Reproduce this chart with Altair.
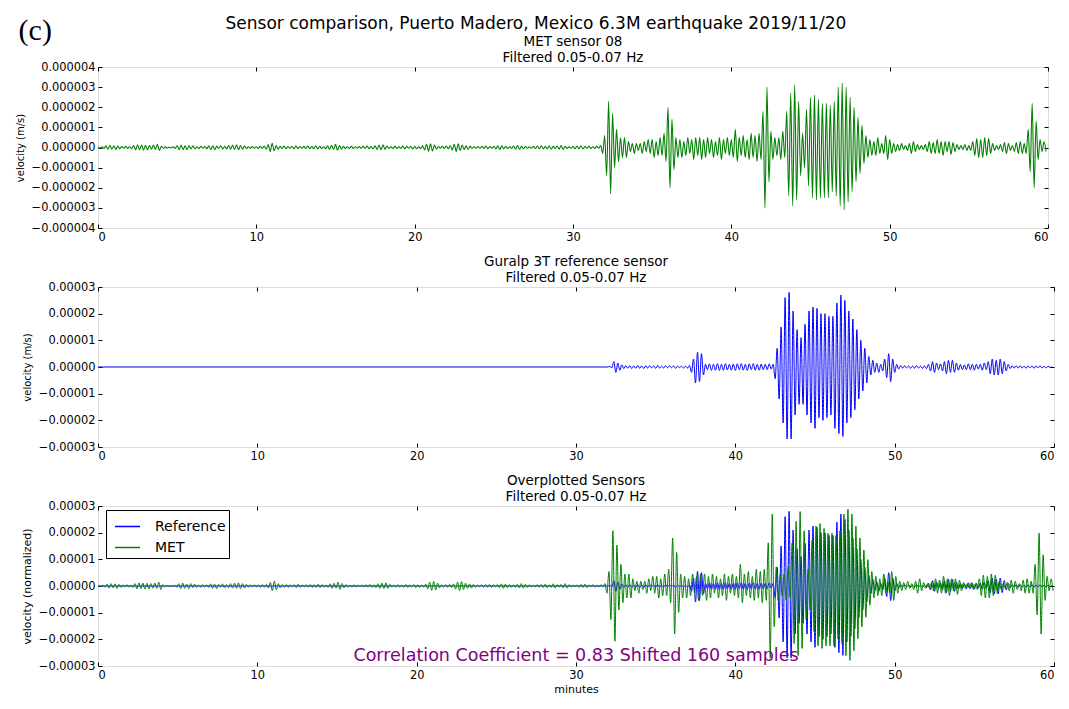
import altair as alt
import pandas as pd

FONT = "DejaVu Sans"
GREEN = "#008000"
BLUE = "#0000ff"
STEP_MIN = 0.125  # spacing (minutes) of the extrema listed below

# ---- MET sensor 08: successive extrema (units of 1e-7 m/s) ----
met_00_10 = [0.3, -0.3, 0.4, -0.5, 0.8, -0.9, 1.0, -0.8, 0.9, -1.0, 0.7, -0.6, 0.5, -0.4, 0.6, -0.5,
             0.4, -0.6, 1.0, -1.2, 1.3, -1.1, 1.2, -1.3, 1.1, -1.2, 1.0, -0.9, 1.2, -1.0, 1.6, -1.5,
             0.6, -0.4, 0.3, -0.3, 0.2, -0.2, 0.3, -0.5, 0.9, -1.1, 1.2, -1.0, 0.8, -1.1, 1.0, -0.7,
             0.8, -0.6, 0.4, -0.5, 0.6, -0.4, 0.5, -0.6, 0.9, -1.0, 0.8, -1.1, 0.7, -0.5, 0.9, -0.8,
             0.6, -0.7, 1.0, -0.9, 1.2, -1.0, 1.3, -1.1, 1.0, -0.9, 0.7, -0.5, 0.4, -0.3, 0.5, -0.4]
met_10_20 = [0.4, -0.5, 0.6, -0.5, 0.7, -0.8, 1.5, -2.0, 2.1, -1.6, 1.0, -0.8, 0.6, -0.5, 0.7, -0.6,
             0.5, -0.4, 0.6, -0.7, 0.8, -0.6, 0.5, -0.4, 0.6, -0.5, 0.7, -0.6, 0.5, -0.6, 0.8, -0.7,
             0.6, -0.5, 0.4, -0.6, 0.9, -1.0, 1.1, -0.9, 1.6, -1.4, 1.0, -0.8, 0.6, -0.5, 0.4, -0.5,
             0.6, -0.5, 0.4, -0.3, 0.5, -0.4, 0.6, -0.5, 0.7, -0.6, 0.5, -0.7, 0.9, -1.0, 1.2, -1.1,
             1.3, -1.0, 0.7, -0.5, 0.4, -0.5, 0.6, -0.5, 0.4, -0.5, 0.7, -0.6, 0.5, -0.4, 0.6, -0.7]
met_20_30 = [0.5, -0.6, 0.4, -0.5, 0.8, -1.2, 1.6, -1.8, 1.9, -1.7, 1.2, -0.8, 0.5, -0.4, 0.6, -0.5,
             0.7, -0.6, 0.9, -1.3, 1.6, -2.0, 1.8, -1.5, 1.2, -1.0, 0.8, -0.9, 0.7, -0.5, 0.4, -0.3,
             0.5, -0.4, 0.6, -0.5, 0.7, -0.6, 0.5, -0.4, 0.6, -0.7, 0.9, -1.0, 0.8, -0.7, 0.6, -0.5,
             0.4, -0.5, 0.7, -0.8, 1.0, -0.9, 0.7, -0.6, 0.5, -0.4, 0.3, -0.4, 0.6, -0.5, 0.7, -0.6,
             0.8, -0.7, 0.5, -0.6, 0.9, -0.8, 0.6, -0.5, 0.7, -0.8, 1.0, -0.9, 0.6, -0.5, 0.4, -0.3]
met_30_40 = [0.5, -0.6, 0.7, -0.6, 0.8, -0.7, 0.5, -0.4, 0.6, -0.5, 0.4, -0.5, 0.6, -0.4, 1.0, -3.0,
             6, -14, 23, -23, 17, -10, 9, -7, 5, -5, 5, -5, 3, -2, 2, -3,
             2, -1.5, 2, -3, 3, -2, 4, -3, 4, -5, 3, -4, 5, -4, 7, -7,
             20, -20, 14, -11, 5, -5, 4, -5, 3, -4, 5, -3, 4, -6, 5, -4,
             5, -6, 4, -5, 5, -3, 4, -5, 3, -4, 5, -6, 4, -3, 5, -4]
met_40_50 = [4, -5, 9, -7, 5, -4, 6, -5, 4, -6, 7, -5, 6, -7, 7, -6,
             18, -30, 30, -17, 8, -6, 5, -4, 5, -6, 8, -5, 18, -24, 27, -29,
             31, -26, 23, -14, 7, -10, 19, -19, 25, -25, 26, -26, 24, -25, 22, -25,
             22, -25, 21, -22, 23, -24, 30, -29, 32, -31, 30, -27, 25, -22, 20, -17,
             15, -13, 11, -8, 6, -5, 4, -4, 3, -4, 5, -3, 2, -3, 6, -6]
met_50_60 = [4, -3, 2, -2, 1.5, -1.5, 2, -1, 1, -1.5, 2, -3, 3, -2, 1.5, -1,
             1, -1, 1.5, -2, 3, -3, 2.5, -3, 4, -3, 3, -4, 3, -2, 3, -3.5,
             2.5, -2, 1.5, -1, 1, -1, 1.5, -1.5, 1, -1.5, 3, -4, 4.5, -5, 4, -5,
             5, -4, 4.5, -3, 2, -1.5, 1, -1, 1.5, -2, 2.5, -3, 2, -1.5, 1, -2,
             2.5, -3, 3, -3, 2, -3, 9, -12, 22, -20, 13, -6, 4, -2, 3, -2]

# ---- Guralp 3T reference: flat until 32 min, then extrema (units of 1e-6 m/s) ----
ref_quiet_t = [0.0]
ref_quiet_v = [0.0]
ref_start_min = 32.0
ref_32_40 = [0, 0.2, -0.3, 2, -2, 1.5, -1.2, 0.8, -0.6, 0.5, -0.4, 0.5, -0.6, 0.4, -0.5, 0.6,
             -0.5, 0.4, -0.6, 0.5, -0.4, 0.5, -0.3, 0.4, -0.5, 0.6, -0.4, 0.3, -0.4, 0.5, -0.3, 0.4,
             -0.3, 0.4, -0.5, 0.3, -0.2, 0.3, -0.4, 0.3, -0.4, 0.5, -2, 3, -6, 5.5, -5.5, 5,
             -3, 1, -1, 1.2, -1.3, 1, -1.2, 1.3, -1.3, 1, -1.2, 1.3, -1.1, 1, -1.2, 1.1]
ref_40_50 = [-1.3, 1.2, -1, 1.3, -1.2, 1, -1.3, 1.2, -1, 1.3, -1.2, 1, -1.2, 1.1, -1, 1,
             -1, 1.2, -0.8, 1, -4.4, 7, -12, 15, -21, 26, -27, 28, -27, 21, -18, 14,
             -14, 11, -14, 16, -18, 21, -21, 22.5, -23, 22, -19, 20, -20, 20, -19, 19,
             -18, 19, -23, 24, -25, 27, -26, 25, -21, 21, -19, 18, -16, 14, -12, 10,
             -9, 7, -6, 4, -3, 2.5, -2, 1.5, -2, 1, -1.5, 3, -4, 5, -5.5, 3]
ref_50_60 = [-2, 1, -0.8, 0.5, -0.4, 0.5, -0.3, 0.4, -0.5, 0.3, -0.4, 0.5, -0.4, 0.3, -0.5, 0.4,
             -0.6, 1, -1.5, 2, -2, 1.5, -1, 1.2, -1.5, 2, -2.5, 2.5, -2, 2.5, -2, 1.5,
             -1.2, 1, -1, 0.8, -1, 1.2, -1, 1, -1.2, 1, -0.8, 1, -1.2, 1.5, -1, 2,
             -2.5, 3, -3, 2.5, -3, 3, -2.5, 2, -1.5, 1, -0.6, 0.5, -0.4, 0.5, -0.4, 0.5,
             -0.4, 0.3, -0.5, 0.4, -0.3, 0.4, -0.5, 0.4, -0.3, 0.5, -0.4, 0.3, -0.4, 0.3, -0.2, 0.1]

# ---- overplot settings / labels ----
met_norm_factor = 9.0        # MET scaled onto the reference amplitude
shift_samples = 160
sample_rate_hz = 40.0
corr_text = "Correlation Coefficient = 0.83 Shifted 160 samples"
corr_pos = [30.0, -0.0000262]   # (minutes, velocity) of the annotation centre

x_ticks = [0, 10, 20, 30, 40, 50, 60]
met_y_ticks = [-0.000004, -0.000003, -0.000002, -0.000001, 0.0,
               0.000001, 0.000002, 0.000003, 0.000004]
ref_y_ticks = [-0.00003, -0.00002, -0.00001, 0.0, 0.00001, 0.00002, 0.00003]

# ---- tables ----
met_v = met_00_10 + met_10_20 + met_20_30 + met_30_40 + met_40_50 + met_50_60
met_t = [i * STEP_MIN for i in range(len(met_v))]
met_df = pd.DataFrame({"t": met_t, "v": [x * 1e-7 for x in met_v]})

ref_v = ref_32_40 + ref_40_50 + ref_50_60
ref_t = ref_quiet_t + [ref_start_min + i * STEP_MIN for i in range(len(ref_v))]
ref_df = pd.DataFrame({"t": ref_t, "v": [x * 1e-6 for x in ref_quiet_v + ref_v]})

shift_min = shift_samples / sample_rate_hz / 60.0
ov_ref = ref_df.assign(series="Reference")
ov_met = pd.DataFrame({"t": [t + shift_min for t in met_t],
                       "v": [x * 1e-7 * met_norm_factor for x in met_v],
                       "series": "MET"})
corr_df = pd.DataFrame({"t": [corr_pos[0]], "v": [corr_pos[1]], "label": [corr_text]})

X_SCALE = alt.Scale(domain=[0, 60], nice=False, zero=False)


def axis(orient, values, fmt=None, title=None, labels=True, title_size=11):
    kw = dict(orient=orient, values=values, domain=False, grid=False, ticks=True,
              tickSize=4, tickColor="black", tickWidth=1, offset=-4,
              labels=labels, labelFont=FONT, labelFontSize=11.4, labelColor="black",
              labelPadding=3,
              titleFont=FONT, titleFontSize=title_size, titleColor="black",
              titleFontWeight="normal", title=title)
    if fmt is not None:
        kw["format"] = fmt
    if orient == "left":
        kw["titlePadding"] = 6
    if orient == "bottom":
        kw["titlePadding"] = 3
    return alt.Axis(**kw)


def ghost(ydomain, yticks):
    corners = pd.DataFrame({"t": [0, 60], "v": ydomain})
    ys = alt.Scale(domain=ydomain, nice=False, zero=False)
    return alt.Chart(corners).mark_point(opacity=0).encode(
        x=alt.X("t:Q", scale=X_SCALE, axis=axis("top", x_ticks, labels=False)),
        y=alt.Y("v:Q", scale=ys, axis=axis("right", yticks, labels=False)),
    )


def panel_title(lines):
    return alt.TitleParams(text=lines, font=FONT, fontSize=13.5, fontWeight="normal",
                           color="black", lineHeight=16, anchor="middle", frame="group",
                           offset=-3)


# ---- panel 1: MET ----
ys1 = alt.Scale(domain=[-0.000004, 0.000004], nice=False, zero=False)
p1_line = alt.Chart(met_df).mark_line(color=GREEN, strokeWidth=1.1, interpolate="monotone").encode(
    x=alt.X("t:Q", scale=X_SCALE, axis=axis("bottom", x_ticks, "d")),
    y=alt.Y("v:Q", scale=ys1, axis=axis("left", met_y_ticks, ".6f", "velocity (m/s)", title_size=10)),
)
p1 = alt.layer(p1_line, ghost([-0.000004, 0.000004], met_y_ticks)).resolve_axis(
    x="independent", y="independent").properties(
    width=950, height=161, title=panel_title(["MET sensor 08", "Filtered 0.05-0.07 Hz"]))

# ---- panel 2: reference ----
ys2 = alt.Scale(domain=[-0.00003, 0.00003], nice=False, zero=False)
p2_line = alt.Chart(ref_df).mark_line(color=BLUE, strokeWidth=1.0, interpolate="monotone").encode(
    x=alt.X("t:Q", scale=X_SCALE, axis=axis("bottom", x_ticks, "d")),
    y=alt.Y("v:Q", scale=ys2, axis=axis("left", ref_y_ticks, ".5f", "velocity (m/s)", title_size=10)),
)
p2 = alt.layer(p2_line, ghost([-0.00003, 0.00003], ref_y_ticks)).resolve_axis(
    x="independent", y="independent").properties(
    width=956, height=160, title=panel_title(["Guralp 3T reference sensor", "Filtered 0.05-0.07 Hz"]))

# ---- panel 3: overplotted ----
color_scale = alt.Scale(domain=["Reference", "MET"], range=[BLUE, GREEN])
legend = alt.Legend(title=None, orient="none", legendX=8, legendY=4, symbolType="stroke",
                    symbolSize=625, symbolStrokeWidth=1.5, symbolOffset=5, labelFont=FONT,
                    labelFontSize=14, labelColor="black", labelOffset=14, strokeColor="black",
                    fillColor="white", padding=3, rowPadding=0, cornerRadius=0)
p3_ref = alt.Chart(ov_ref).mark_line(strokeWidth=1.0, interpolate="monotone").encode(
    x=alt.X("t:Q", scale=X_SCALE, axis=axis("bottom", x_ticks, "d", "minutes")),
    y=alt.Y("v:Q", scale=ys2, axis=axis("left", ref_y_ticks, ".5f", "velocity (normalized)")),
    color=alt.Color("series:N", scale=color_scale, legend=legend),
)
p3_met = alt.Chart(ov_met).mark_line(strokeWidth=1.0, interpolate="monotone").encode(
    x=alt.X("t:Q", scale=X_SCALE, axis=None),
    y=alt.Y("v:Q", scale=ys2, axis=None),
    color=alt.Color("series:N", scale=color_scale, legend=legend),
)
p3_text = alt.Chart(corr_df).mark_text(color="purple", font=FONT, fontSize=17.5,
                                       align="center", baseline="middle").encode(
    x=alt.X("t:Q", scale=X_SCALE, axis=None),
    y=alt.Y("v:Q", scale=ys2, axis=None),
    text="label:N",
)
p3 = alt.layer(p3_ref, p3_met, p3_text, ghost([-0.00003, 0.00003], ref_y_ticks)).resolve_axis(
    x="independent", y="independent").properties(
    width=956, height=160, title=panel_title(["Overplotted Sensors", "Filtered 0.05-0.07 Hz"]))

inner = alt.vconcat(p1, p2, p3, spacing=11).resolve_legend(color="independent").properties(
    title=alt.TitleParams(text="Sensor comparison, Puerto Madero, Mexico 6.3M earthquake 2019/11/20",
                          font=FONT, fontSize=17, fontWeight="normal", color="black",
                          anchor="middle", offset=1))

chart = alt.vconcat(inner).properties(
    title=alt.TitleParams(text="(c)", font="Liberation Serif", fontSize=30, fontWeight="normal",
                          color="black", anchor="start", offset=-31, dx=4),
    padding={"left": 14, "top": 15, "right": 8, "bottom": 8},
).configure_view(stroke="black", strokeWidth=1).configure(background="white")

chart.save("out.html", embed_options={"renderer": "svg", "actions": False})
